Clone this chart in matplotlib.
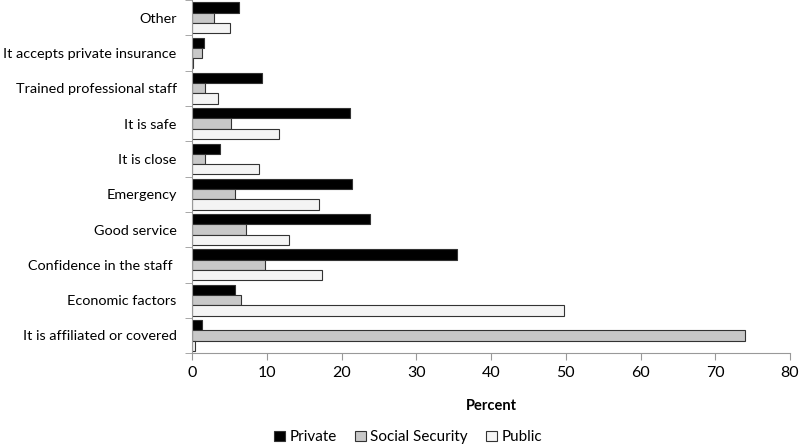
import numpy as np
import matplotlib.pyplot as plt
from matplotlib.ticker import FixedLocator

# categories bottom -> top
categories = ['It is affiliated or covered', 'Economic factors', 'Confidence in the staff ',
              'Good service', 'Emergency', 'It is close', 'It is safe',
              'Trained professional staff', 'It accepts private insurance', 'Other']
private = [1.3, 5.7, 35.4, 23.8, 21.4, 3.7, 21.2, 9.3, 1.6, 6.3]
social_security = [74.0, 6.6, 9.8, 7.2, 5.7, 1.7, 5.2, 1.7, 1.4, 2.9]
public = [0.4, 49.7, 17.4, 13.0, 17.0, 8.9, 11.7, 3.5, 0.15, 5.1]

plt.rcParams['font.family'] = ['Lato', 'DejaVu Sans']

fig = plt.figure(figsize=(8, 4.47), dpi=100)
ax = fig.add_axes([0.24, 0.21, 0.7475, 0.79])

y = np.arange(len(categories))
h = 0.29
edge = '#333333'
ax.barh(y + h, private, height=h, color='black', edgecolor=edge, linewidth=0.8, label='Private')
ax.barh(y, social_security, height=h, color='#c8c8c8', edgecolor=edge, linewidth=0.8, label='Social Security')
ax.barh(y - h, public, height=h, color='#f4f4f4', edgecolor=edge, linewidth=0.8, label='Public')

ax.set_xlim(0, 80)
ax.set_ylim(-0.5, len(categories) - 0.5)
ax.set_xticks(range(0, 81, 10))
ax.set_yticks(y)
ax.set_yticklabels(categories, fontsize=10.4)
ax.yaxis.set_minor_locator(FixedLocator(np.arange(-0.5, len(categories), 1)))
ax.tick_params(axis='y', which='major', length=0, pad=11)
ax.tick_params(axis='y', which='minor', length=5, color='#999999', direction='out')
ax.tick_params(axis='x', length=5, color='#999999', labelsize=11.5, pad=4)
ax.set_xlabel('Percent', fontsize=10.5, fontweight='bold', labelpad=14)

for s in ['top', 'right']:
    ax.spines[s].set_visible(False)
for s in ['left', 'bottom']:
    ax.spines[s].set_color('#999999')

fig.legend(loc='lower center', bbox_to_anchor=(0.51, -0.025), ncol=3, frameon=False,
           fontsize=11, handlelength=0.7, handleheight=0.7, handletextpad=0.3, columnspacing=1.2)

plt.savefig('out.png', dpi=100)
